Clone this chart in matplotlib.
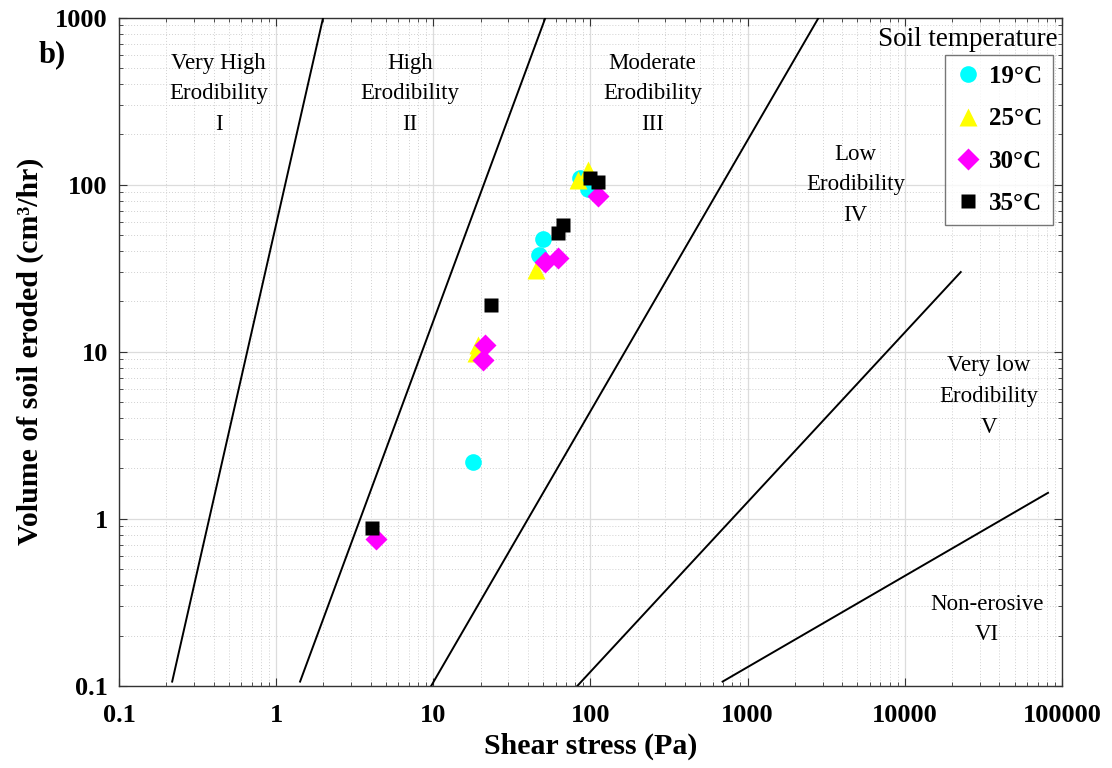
import numpy as np
import matplotlib
matplotlib.use("Agg")
import matplotlib.pyplot as plt
from matplotlib.ticker import FixedLocator, FixedFormatter, LogLocator, NullFormatter

plt.rcParams['font.family'] = ['Liberation Serif', 'DejaVu Serif']

# erosion test results, one pair of lists per soil temperature
s19_x = [18, 47, 50, 86, 96]
s19_y = [2.2, 38, 47, 110, 94]
s25_x = [18.7, 19.2, 45, 83, 97]
s25_y = [9.8, 11, 31, 107, 122]
s30_x = [4.3, 20.8, 21.4, 51.6, 61.7, 111]
s30_y = [0.76, 8.9, 10.9, 34.6, 36.6, 85]
s35_x = [4.1, 23.4, 61.7, 66.4, 100, 111]
s35_y = [0.88, 19.1, 51.7, 57.5, 110, 104]

# erodibility category boundaries (end points)
bound_x = [[0.218, 1.99], [1.42, 51.7], [9.7, 2830], [82.6, 22700], [693, 81500]]
bound_y = [[0.106, 1000], [0.106, 1000], [0.1, 1000], [0.1, 30], [0.106, 1.43]]

zone_labels = ["Very High\nErodibility\nI", "High\nErodibility\nII",
               "Moderate\nErodibility\nIII", "Low\nErodibility\nIV",
               "Very low\nErodibility\nV", "Non-erosive\nVI"]
zone_x = [0.43, 7.1, 248, 4870, 34300, 33300]
zone_y = [350, 350, 350, 100, 5.4, 0.25]

xticks = [0.1, 1, 10, 100, 1000, 10000, 100000]
xtick_labels = ["0.1", "1", "10", "100", "1000", "10000", "100000"]
yticks = [0.1, 1, 10, 100, 1000]
ytick_labels = ["0.1", "1", "10", "100", "1000"]

fig = plt.figure(figsize=(11.12, 7.68), dpi=100)
ax = fig.add_axes([0.107, 0.107, 0.848, 0.870])
ax.set_xscale('log')
ax.set_yscale('log')
ax.set_xlim(0.1, 100000)
ax.set_ylim(0.1, 1000)

for bx, by in zip(bound_x, bound_y):
    ax.plot(bx, by, color='black', lw=1.4, zorder=3)

for lab, tx, ty in zip(zone_labels, zone_x, zone_y):
    ax.text(tx, ty, lab, ha='center', va='center', fontsize=16.5,
            linespacing=1.6, color='black', zorder=4)

ax.plot(s19_x, s19_y, 'o', color='#00ffff', ms=12, mec='none', label='19°C', zorder=5)
ax.plot(s25_x, s25_y, '^', color='#ffff00', ms=12.5, mec='none', label='25°C', zorder=5)
ax.plot(s30_x, s30_y, 'D', color='#ff00ff', ms=11, mec='none', label='30°C', zorder=5)
ax.plot(s35_x, s35_y, 's', color='black', ms=10, mec='none', label='35°C', zorder=6)

ax.xaxis.set_major_locator(FixedLocator(xticks))
ax.xaxis.set_major_formatter(FixedFormatter(xtick_labels))
ax.yaxis.set_major_locator(FixedLocator(yticks))
ax.yaxis.set_major_formatter(FixedFormatter(ytick_labels))
ax.xaxis.set_minor_locator(LogLocator(base=10, subs=np.arange(2, 10)))
ax.yaxis.set_minor_locator(LogLocator(base=10, subs=np.arange(2, 10)))
ax.xaxis.set_minor_formatter(NullFormatter())
ax.yaxis.set_minor_formatter(NullFormatter())

ax.tick_params(which='both', direction='in', top=True, right=True, color='#333333')
ax.tick_params(which='major', length=6, labelsize=19)
ax.tick_params(which='minor', length=3)
ax.tick_params(axis='x', which='major', pad=13)
ax.tick_params(axis='y', which='major', pad=8)
for lbl in ax.get_xticklabels() + ax.get_yticklabels():
    lbl.set_fontweight('bold')

ax.grid(which='major', color='#dcdcdc', lw=0.9, ls='-')
ax.grid(which='minor', color='#d0d0d0', lw=0.7, ls=(0, (1, 2)))
ax.set_axisbelow(True)
for sp in ax.spines.values():
    sp.set_color('#333333')
    sp.set_linewidth(1.0)

ax.set_xlabel("Shear stress (Pa)", fontsize=21.5, fontweight='bold', labelpad=4)
ax.set_ylabel("Volume of soil eroded (cm³/hr)", fontsize=21.5, fontweight='bold', labelpad=8)

leg = ax.legend(loc='upper right', bbox_to_anchor=(0.9905, 0.9446), borderaxespad=0,
                frameon=True, fancybox=False, handletextpad=0.35, labelspacing=0.77,
                borderpad=0.42, handlelength=1.0, prop={'size': 18, 'weight': 'bold'})
leg.get_frame().set_edgecolor('#555555')
leg.get_frame().set_linewidth(1.0)

ax.text(0.995, 0.967, "Soil temperature", transform=ax.transAxes, ha='right',
        va='center', fontsize=19.5, color='black')

fig.text(52 / 1112, 1 - 55 / 768, "b)", fontsize=22, fontweight='bold',
         ha='center', va='center')

fig.savefig("out.png", dpi=100)
